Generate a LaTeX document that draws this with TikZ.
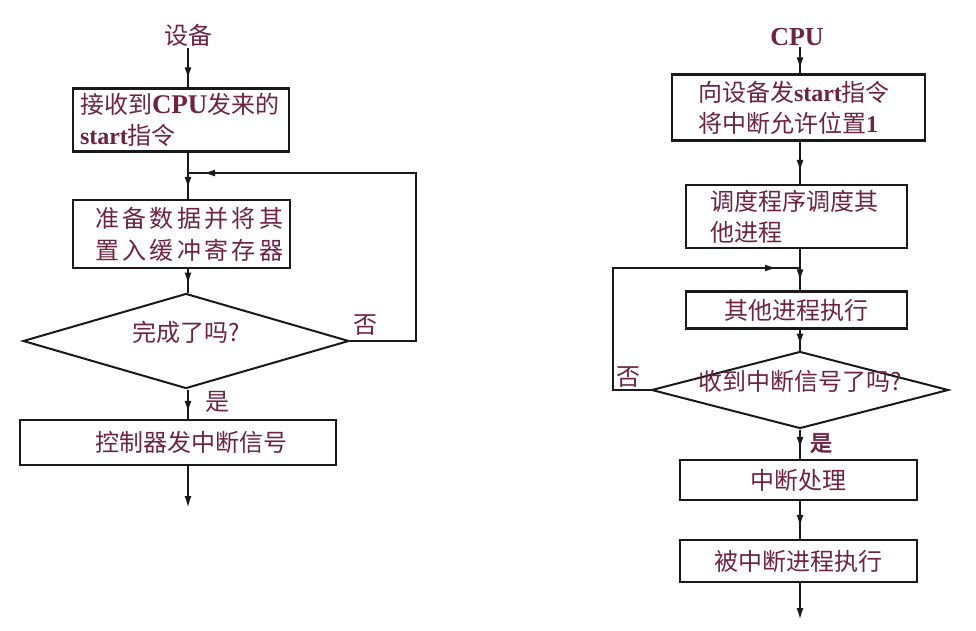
\documentclass[tikz,border=0pt]{standalone}
\usepackage{fontspec}
\setmainfont{Liberation Serif}
\newfontfamily\cjk{Noto Sans CJK SC}
\newfontfamily\cjksp{Noto Sans CJK SC}[LetterSpace=14]
\newfontfamily\cjkb{Noto Sans CJK SC}[FakeBold=3]
\newfontfamily\latf{Liberation Serif}
\newcommand\lb[1]{{\latf\bfseries #1}}
\usetikzlibrary{shapes.geometric, arrows.meta, decorations.markings}
\definecolor{tc}{RGB}{110,35,65}
\definecolor{lc}{RGB}{25,25,25}
\tikzset{
  base/.style={font=\cjk\fontsize{24}{31}\selectfont, text=tc, inner sep=2pt},
  box/.style={base, draw=lc, line width=2.3pt, inner xsep=7pt, inner ysep=0pt, align=left},
  sbox/.style={base, draw=lc, line width=2.3pt, inner sep=0pt},
  dia/.style={base, draw=lc, line width=2pt, shape=diamond, inner sep=0pt},
  conn/.style={draw=lc, line width=2pt},
  arr/.style={conn, postaction={decorate}, decoration={markings, mark=at position #1 with {\arrow{Latex[length=12pt,width=7pt]}}}},
  endarr/.style={conn, -{Latex[length=12pt,width=7pt]}}
}
\begin{document}
\begin{tikzpicture}[x=1pt,y=-1pt]
\useasboundingbox (0,0) rectangle (976,631);
% ---------- left chart ----------
\node[base] (dev) at (188,35) {设备};
\node[box, text width=202pt, minimum height=63pt] (b1) at (181,120) {接收到{\fontsize{27}{31}\selectfont\lb{CPU}}发来的\\\lb{start}指令};
\node[box, font=\cjksp\fontsize{24}{32}\selectfont, text width=203pt, minimum height=68pt] (b2) at (181.5,234) {\hspace*{15pt}准备数据并将其\\\hspace*{15pt}置入缓冲寄存器};
\node[dia, minimum width=326pt, minimum height=95pt] (d1) at (186,341) {\smash{\makebox[0pt]{完成了吗?}}};
\node[sbox, minimum width=316pt, minimum height=45pt] (b3) at (178,442.5) {\hspace{26pt}控制器发中断信号};
\node[base] (no1) at (365,325) {否};
\node[base] (yes1) at (217,402) {是};
\coordinate (j1) at (188,173);
\coordinate (e1) at (188,508);
\draw[arr=-8pt] (dev) -- (dev |- b1.north);
\draw[arr=-10pt] (dev |- b1.south) -- (dev |- b2.north);
\draw[arr=-8pt] (dev |- b2.south) -- (dev |- d1.north);
\draw[arr=-15pt] (d1.east) -- ++(66,0) |- (j1);
\draw[arr=-6pt] (dev |- d1.south) -- (dev |- b3.north);
\draw[endarr] (dev |- b3.south) -- (e1);
% ---------- right chart ----------
\node[base, font=\latf\bfseries\fontsize{26}{30}\selectfont, inner sep=1pt] (cpu) at (797,37) {CPU};
\coordinate (cr) at (800,0);
\node[box, inner xsep=26pt, text width=201pt, minimum height=66pt] (bA) at (798.5,107.5) {向设备发\lb{start}指令\\将中断允许位置\lb{1}};
\node[box, inner xsep=24pt, text width=173pt, minimum height=63pt] (bB) at (796.5,216.5) {调度程序调度其\\他进程};
\node[sbox, minimum width=221pt, minimum height=37pt] (bC) at (796.5,310) {其他进程执行\hspace{18pt}};
\node[dia, minimum width=297pt, minimum height=77pt] (d2) at (800,390) {\smash{\makebox[0pt]{收到中断信号了吗?}}};
\node[sbox, minimum width=237pt, minimum height=40pt] (bD) at (798.5,480) {中断处理};
\node[sbox, minimum width=237pt, minimum height=42pt] (bE) at (798.5,561) {被中断进程执行};
\node[base] (no2) at (628,377) {否};
\node[base, font=\cjkb\fontsize{22}{26}\selectfont] (yes2) at (821,443) {是};
\coordinate (j2) at (800,268);
\coordinate (e2) at (800,620);
\draw[arr=-4pt] (cr |- cpu.south) -- (cr |- bA.north);
\draw[arr=-12pt] (cr |- bA.south) -- (cr |- bB.north);
\draw[arr=-9pt] (cr |- bB.south) -- (cr |- bC.north);
\draw[arr=-23pt] (d2.west) -- ++(-37.5,0) |- (j2);
\draw[arr=-5pt] (cr |- bC.south) -- (cr |- d2.north);
\draw[arr=-10pt] (cr |- d2.south) -- (cr |- bD.north);
\draw[arr=-12pt] (cr |- bD.south) -- (cr |- bE.north);
\draw[endarr] (cr |- bE.south) -- (e2);
\end{tikzpicture}
\end{document}
